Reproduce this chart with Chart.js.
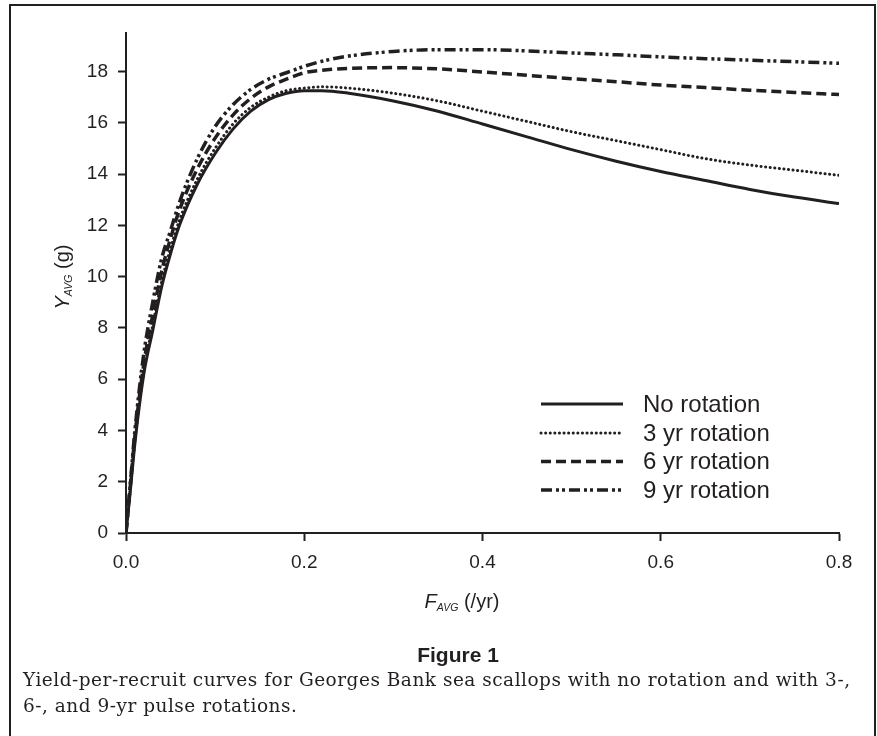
<!DOCTYPE html>
<html><head><meta charset="utf-8">
<script src="https://cdn.jsdelivr.net/npm/chart.js@4.4.1/dist/chart.umd.min.js"></script>
<style>
html,body{margin:0;padding:0;background:#fff;}
#wrap{position:relative;width:877px;height:736px;overflow:hidden;}
#frame{position:absolute;left:9px;top:4px;width:867px;height:800px;border:2.5px solid #231f20;box-sizing:border-box;}
#c{position:absolute;left:0;top:0;}
#fig{position:absolute;top:643px;left:0;width:916px;text-align:center;font:bold 21px "Liberation Sans Narrow","Liberation Sans",Arial,sans-serif;color:#231f20;}
#cap{position:absolute;left:23px;top:667px;font:18.5px "DejaVu Serif",serif;letter-spacing:0.5px;line-height:26px;color:#231f20;white-space:nowrap;}
</style></head>
<body>
<div id="wrap">
<div id="frame"></div>
<canvas id="c" width="877" height="736"></canvas>
<div id="fig">Figure 1</div>
<div id="cap">Yield-per-recruit curves for Georges Bank sea scallops with no rotation and with 3-,<br>6-, and 9-yr pulse rotations.</div>
</div>
<script>
// ---- data ----
const fValues = [0, 0.005, 0.01, 0.02, 0.03, 0.04, 0.05, 0.06, 0.08, 0.1, 0.12, 0.14, 0.16, 0.18, 0.2, 0.22, 0.25, 0.3, 0.35, 0.4, 0.45, 0.5, 0.55, 0.6, 0.65, 0.7, 0.75, 0.8];
const noRotation = [0, 1.7, 3.5, 6.2, 7.9, 9.6, 10.9, 12.0, 13.6, 14.8, 15.75, 16.45, 16.9, 17.15, 17.25, 17.25, 17.15, 16.85, 16.45, 15.95, 15.45, 14.95, 14.5, 14.1, 13.75, 13.4, 13.1, 12.85];
const rot3yr = [0, 1.8, 3.6, 6.3, 8.1, 9.8, 11.1, 12.2, 13.8, 15.0, 15.95, 16.6, 17.0, 17.25, 17.35, 17.4, 17.35, 17.15, 16.85, 16.45, 16.05, 15.65, 15.3, 14.95, 14.6, 14.35, 14.15, 13.95];
const rot6yr = [0, 1.9, 3.8, 6.6, 8.5, 10.2, 11.5, 12.6, 14.2, 15.4, 16.3, 16.95, 17.4, 17.7, 17.95, 18.05, 18.12, 18.15, 18.1, 17.98, 17.85, 17.72, 17.6, 17.47, 17.37, 17.27, 17.18, 17.1];
const rot9yr = [0, 2.0, 4.0, 7.0, 9.0, 10.7, 11.8, 12.9, 14.6, 15.85, 16.7, 17.3, 17.7, 17.95, 18.2, 18.4, 18.6, 18.78, 18.85, 18.85, 18.8, 18.72, 18.65, 18.57, 18.5, 18.44, 18.38, 18.32];
const seriesNames = ["No rotation", "3 yr rotation", "6 yr rotation", "9 yr rotation"];
const xTicks = [0, 0.2, 0.4, 0.6, 0.8];
const yTicks = [0, 2, 4, 6, 8, 10, 12, 14, 16, 18];

const INK = '#231f20';
const styles = [
  {dash: [], cap: 'butt', w: 3},
  {dash: [0.1, 4.5], cap: 'round', w: 3},
  {dash: [10, 5], cap: 'butt', w: 3.5},
  {dash: [11, 4, 3, 3, 3, 4], cap: 'butt', w: 3.5}
];
const allSeries = [noRotation, rot3yr, rot6yr, rot9yr];
const datasets = allSeries.map((s, i) => ({
  label: seriesNames[i],
  data: fValues.map((f, j) => ({x: f, y: s[j]})),
  borderColor: INK,
  borderWidth: styles[i].w,
  borderDash: styles[i].dash,
  borderCapStyle: styles[i].cap,
  pointRadius: 0,
  fill: false,
  cubicInterpolationMode: 'monotone'
}));

const tickFont = {family: '"Liberation Sans", Arial, sans-serif', size: 19};

const decor = {
  id: 'decor',
  afterDraw(chart) {
    const ctx = chart.ctx;
    ctx.save();
    ctx.fillStyle = INK;
    // legend
    const lx0 = 541, lx1 = 623, tx = 643, rows = [404, 433, 461.5, 490];
    ctx.font = '24px "Liberation Sans", Arial, sans-serif';
    ctx.textBaseline = 'middle';
    rows.forEach((y, i) => {
      ctx.save();
      ctx.strokeStyle = INK;
      ctx.lineWidth = styles[i].w;
      ctx.setLineDash(styles[i].dash);
      ctx.lineCap = styles[i].cap;
      ctx.beginPath(); ctx.moveTo(lx0, y); ctx.lineTo(lx1, y); ctx.stroke();
      ctx.restore();
      ctx.fillText(seriesNames[i], tx, y + 1);
    });
    // axis titles
    function drawTitle(main, sub, rest) {
      const big = '20px "Liberation Sans", Arial, sans-serif';
      const bigI = 'italic 20px "Liberation Sans", Arial, sans-serif';
      const smI = 'italic 10.5px "Liberation Sans", Arial, sans-serif';
      ctx.font = bigI; const w1 = ctx.measureText(main).width;
      ctx.font = smI; const w2 = ctx.measureText(sub).width;
      ctx.font = big; const w3 = ctx.measureText(rest).width;
      let x = -(w1 + w2 + w3) / 2;
      ctx.textBaseline = 'alphabetic';
      ctx.textAlign = 'left';
      ctx.font = bigI; ctx.fillText(main, x, 7); x += w1;
      ctx.font = smI; ctx.fillText(sub, x, 10); x += w2;
      ctx.font = big; ctx.fillText(rest, x, 7);
    }
    ctx.save(); ctx.translate(462, 601); drawTitle('F', 'AVG', ' (/yr)'); ctx.restore();
    ctx.save(); ctx.translate(62, 277); ctx.rotate(-Math.PI / 2); drawTitle('Y', 'AVG', ' (g)'); ctx.restore();
    ctx.restore();
  }
};

new Chart(document.getElementById('c'), {
  type: 'line',
  data: {datasets},
  options: {
    responsive: false,
    animation: false,
    layout: {padding: {left: 0, right: 38, top: 33, bottom: 0}},
    plugins: {legend: {display: false}, tooltip: {enabled: false}},
    scales: {
      x: {
        type: 'linear', min: 0, max: 0.8,
        afterBuildTicks: s => { s.ticks = xTicks.map(v => ({value: v})); },
        afterFit: s => { s.height = 203; },
        ticks: {callback: v => Number(v).toFixed(1), font: tickFont, color: INK, padding: 10, maxRotation: 0},
        grid: {drawOnChartArea: false, drawTicks: true, tickLength: 8, tickWidth: 2, color: INK},
        border: {display: true, width: 2, color: INK}
      },
      y: {
        type: 'linear', min: 0, max: 19.5,
        afterBuildTicks: s => { s.ticks = yTicks.map(v => ({value: v})); },
        afterFit: s => { s.width = 126; },
        ticks: {font: tickFont, color: INK, padding: 10},
        grid: {drawOnChartArea: false, drawTicks: true, tickLength: 8, tickWidth: 2, color: INK},
        border: {display: true, width: 2, color: INK}
      }
    }
  },
  plugins: [decor]
});
</script>
</body></html>
